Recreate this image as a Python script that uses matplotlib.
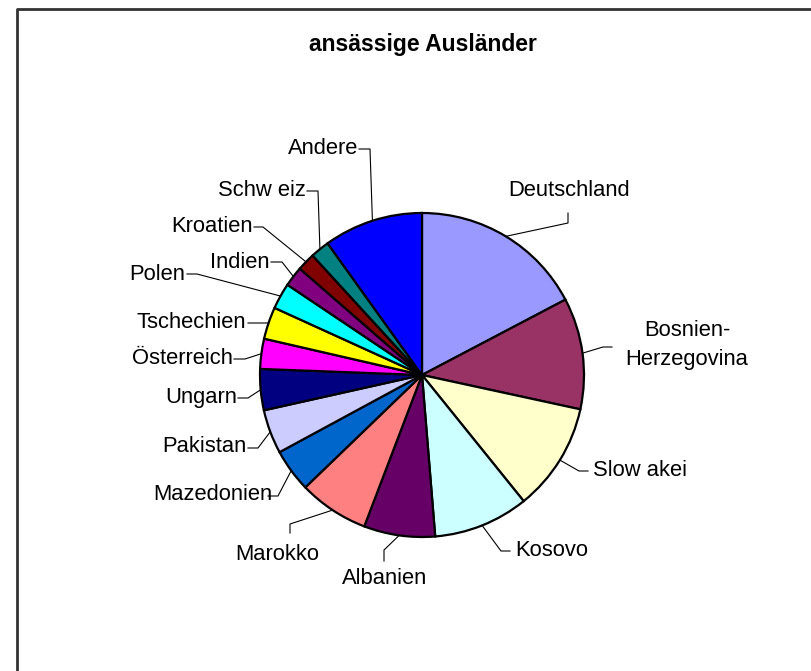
import numpy as np
import matplotlib.pyplot as plt

plt.rcParams['font.family'] = ['Liberation Sans', 'DejaVu Sans']

# Daten (Anteile in %)
laender = ["Deutschland", "Bosnien-\nHerzegovina", "Slow akei", "Kosovo", "Albanien",
           "Marokko", "Mazedonien", "Pakistan", "Ungarn", "Österreich", "Tschechien",
           "Polen", "Indien", "Kroatien", "Schw eiz", "Andere"]
anteile = [17.3, 11.1, 10.8, 9.5, 7.1, 7.0, 4.3, 4.4, 4.1, 3.0, 3.2, 2.6, 2.0, 1.8, 1.9, 9.9]
farben = ["#9999FF", "#993366", "#FFFFCC", "#CCFFFF", "#660066", "#FF8080", "#0066CC",
          "#CCCCFF", "#000080", "#FF00FF", "#FFFF00", "#00FFFF", "#800080", "#800000",
          "#008080", "#0000FF"]

W, H = 811, 671
# label layout in pixels: text x, text y, ha, line start, elbow
layout = [
    (569, 191, "center", (568, 213), (568, 223)),
    (687, 345, "center", (612, 347), (603, 347)),
    (593, 470, "left", (588, 471), (579, 471)),
    (515, 550, "left", (510, 551), (501, 551)),
    (385, 578, "center", (384, 561), (384, 550)),
    (277, 555, "center", (290, 533), (290, 524)),
    (272, 495, "right", (268, 496), (278, 496)),
    (247, 447, "right", (248, 448), (258, 448)),
    (237, 397, "right", (238, 398), (248, 398)),
    (233, 358, "right", (234, 359), (245, 359)),
    (246, 323, "right", (248, 323), (262, 323)),
    (185, 274, "right", (187, 274), (197, 274)),
    (270, 262, "right", (271, 262), (282, 262)),
    (253, 227, "right", (254, 227), (263, 227)),
    (306, 190, "right", (307, 191), (318, 191)),
    (358, 148, "right", (359, 149), (370, 149)),
]

fig = plt.figure(figsize=(W / 100, H / 100), dpi=100)
ax = fig.add_axes([0, 0, 1, 1])

cx, cy, r = 422, H - 375, 162
wedges, _ = ax.pie(anteile, colors=farben, startangle=90, counterclock=False,
                   center=(cx, cy), radius=r, frame=True,
                   wedgeprops=dict(edgecolor="black", linewidth=1.6))
ax.set_xlim(0, W)
ax.set_ylim(0, H)
ax.set_aspect("equal")
ax.axis("off")

for w, name, (tx, ty, ha, s, e) in zip(wedges, laender, layout):
    mid = np.deg2rad((w.theta1 + w.theta2) / 2)
    px = cx + r * np.cos(mid)
    py = cy + r * np.sin(mid)
    ax.plot([s[0], e[0], px], [H - s[1], H - e[1], py], color="black", lw=0.8)
    ax.text(tx, H - ty, name, ha=ha, va="center", fontsize=15.8,
            linespacing=1.5, multialignment="center")

ax.text(423, H - 45, "ansässige Ausländer", ha="center", va="center",
        fontsize=16.5, fontweight="bold")

# Rahmen (nur oben und links sichtbar)
ax.plot([16.5, 16.5, W], [0, H - 8.5, H - 8.5], color="#333333", lw=2)

fig.savefig("out.png", dpi=100)
